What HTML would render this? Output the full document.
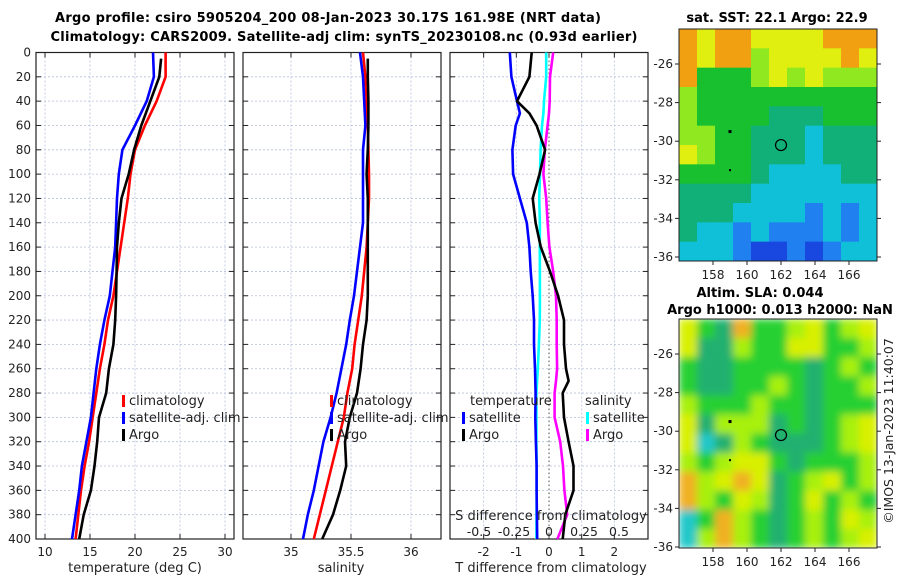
<!DOCTYPE html>
<html><head><meta charset="utf-8"><style>
html,body{margin:0;padding:0;background:#fff;}
svg{display:block;font-family:"DejaVu Sans","Liberation Sans",sans-serif;}
</style></head><body>
<svg id="fig" width="900" height="580" viewBox="0 0 900 580" xmlns="http://www.w3.org/2000/svg">
<defs><filter id="blur" x="0" y="0" width="1" height="1"><feGaussianBlur stdDeviation="4"/></filter>
<clipPath id="c2"><rect x="679" y="319" width="198" height="229"/></clipPath></defs>
<text x="328" y="22" text-anchor="middle" font-size="13" font-weight="bold" textLength="546">Argo profile: csiro 5905204_200 08-Jan-2023 30.17S 161.98E (NRT data)</text>
<text x="344" y="41" text-anchor="middle" font-size="13" font-weight="bold" textLength="587">Climatology: CARS2009. Satellite-adj clim: synTS_20230108.nc (0.93d earlier)</text>
<g id="plots"></g>
</svg>
<script>
const depths=[0,20,40,60,80,100,120,140,160,180,200,220,240,260,280,300,320,340,360,380,400];
const argoDepths=[5,20,40,60,80,100,120,140,160,180,200,220,240,260,280,300,320,340,360,380,400];
const tClim=[23.4,23.4,22.4,21.1,20.0,19.5,19.2,18.8,18.4,18.0,17.6,17.0,16.6,16.1,15.7,15.3,14.9,14.4,14.0,13.7,13.4];
const tSat=[22.0,22.1,21.3,20.0,18.6,18.2,18.0,17.9,17.8,17.5,17.2,16.6,16.1,15.7,15.4,15.1,14.6,14.1,13.8,13.4,13.0];
const tArgo=[22.9,22.7,21.7,20.7,19.9,19.3,18.5,18.2,18.0,17.96,17.9,17.8,17.6,17.1,16.8,16.0,15.8,15.5,15.1,14.3,13.8];
const sClim=[35.60,35.62,35.63,35.64,35.645,35.65,35.65,35.64,35.63,35.61,35.59,35.56,35.53,35.51,35.47,35.44,35.39,35.34,35.29,35.24,35.19];
const sSat=[35.575,35.60,35.61,35.62,35.60,35.60,35.60,35.60,35.575,35.55,35.525,35.49,35.46,35.42,35.38,35.33,35.27,35.23,35.19,35.14,35.10];
const sArgo=[35.64,35.64,35.645,35.645,35.64,35.63,35.64,35.64,35.64,35.64,35.64,35.63,35.60,35.58,35.55,35.49,35.45,35.46,35.41,35.35,35.26];
const dDepths=[0,20,40,50,60,80,100,120,140,160,180,200,220,240,260,270,280,300,320,340,360,380,400];
const dTSat=[-1.2,-1.15,-0.98,-0.89,-1.02,-1.12,-1.1,-0.89,-0.68,-0.6,-0.56,-0.5,-0.46,-0.46,-0.43,-0.42,-0.41,-0.42,-0.4,-0.38,-0.38,-0.37,-0.36];
const dTArgo=[-0.53,-0.6,-0.98,-0.6,-0.38,-0.12,-0.29,-0.5,-0.41,-0.25,0.03,0.28,0.46,0.46,0.52,0.6,0.42,0.46,0.6,0.75,0.75,0.5,0.42];
const dSSat=[-0.02,-0.02,-0.036,-0.04,-0.05,-0.06,-0.064,-0.07,-0.065,-0.066,-0.065,-0.065,-0.066,-0.072,-0.08,-0.085,-0.09,-0.09,-0.09,-0.088,-0.088,-0.089,-0.09];
const dSArgo=[0.03,0.007,0.005,0.0,-0.01,-0.03,-0.04,-0.02,-0.01,0.003,0.03,0.05,0.055,0.055,0.058,0.05,0.04,0.04,0.08,0.1,0.11,0.13,0.06];
const depthTicks=[0,20,40,60,80,100,120,140,160,180,200,220,240,260,280,300,320,340,360,380,400];
const tTicks=[10,15,20,25,30];
const sTicks=[35,35.5,36];
const dTTicks=[-2,-1,0,1,2];
const dSTicks=[-0.5,-0.25,0,0.25,0.5];
const latTicks=[-26,-28,-30,-32,-34,-36];
const lonTicks=[158,160,162,164,166];
const argoLon=162, argoLat=-30.2;
const sstGrid=["OYOOYYYYOOO","OYOOLYYYYOY","OGGGLYLYLLL","LGGGGGGGGGG","LGGGGTTTGGG","LLGGTTTCTTT","YLGGTTTCTTT","GGGGTCCCCTT","TTTTCCCCCCC","TTTCCCCBCBC","TCCBCBBBCBC","CCCBDDBDBCC"];
const slaGrid=["YGTOGGLYGLY","YTTLGGYYGGL","GTTGGGGTGLG","GTTGGLGTGGL","LGGGLGGTGGG","YTLLLTGTGLY","YCTLGTTTGLY","LGLYYGTGGGL","OLYOYTGLYGL","OLGYLTGYGLG","CGOLGTGLGYL","CLOLGTGLGLY"];

const NS="http://www.w3.org/2000/svg";
const root=document.getElementById('plots');
function el(t,a,p){const e=document.createElementNS(NS,t);for(const k in a)e.setAttribute(k,a[k]);(p||root).appendChild(e);return e;}
function txt(x,y,s,a,p){const e=el('text',Object.assign({x:x,y:y,'font-size':12,fill:'#222'},a||{}),p);e.textContent=s;return e;}
const top0=52.5,bot=539;
const yD=d=>top0+(d/400)*(bot-top0);

function panel(name,x0,x1,xmin,xmax,ticks,fmt,showY){
  const g=el('g',{});
  
  
  const xs=v=>x0+(v-xmin)/(xmax-xmin)*(x1-x0);
  ticks.forEach(v=>{const l=el('line',{x1:xs(v),x2:xs(v),y1:top0,y2:bot,stroke:'#b8c0dc','stroke-width':0.8,'stroke-dasharray':'2,2'},g);
    });
  depthTicks.forEach(d=>{const l=el('line',{x1:x0,x2:x1,y1:yD(d),y2:yD(d),stroke:'#b8c0dc','stroke-width':0.8,'stroke-dasharray':'2,2'},g);
    
    el('line',{x1:x0,x2:x0+5,y1:yD(d),y2:yD(d),stroke:'#222'},g);el('line',{x1:x1,x2:x1-5,y1:yD(d),y2:yD(d),stroke:'#222'},g);
    if(showY){const t=txt(x0-5,yD(d)+4,String(d),{'text-anchor':'end'},g);}});
  ticks.forEach(v=>{el('line',{x1:xs(v),x2:xs(v),y1:bot,y2:bot-5,stroke:'#222'},g);el('line',{x1:xs(v),x2:xs(v),y1:top0,y2:top0+5,stroke:'#222'},g);
    if(fmt){const t=txt(xs(v),556,fmt(v),{'text-anchor':'middle'},g);}});
  const r=el('rect',{x:x0,y:top0,width:x1-x0,height:bot-top0,fill:'none',stroke:'#222','stroke-width':1.2},g);
  
  return {g,xs};
}
function line(p,vals,ds,col,nm,xs){
  const pts=vals.map((v,i)=>xs(v).toFixed(1)+','+yD(ds[i]).toFixed(1)).join(' ');
  const e=el('polyline',{points:pts,fill:'none',stroke:col,'stroke-width':2.6,'stroke-linejoin':'round'},p);
  
}
function legItem(p,x,y,col,label,nm){
  const g=el('g',{},p);
  
  
  el('rect',{x:x,y:y-10,width:3,height:12,fill:col},g);txt(x+7,y,label,{'font-size':13},g);
}
// Panel 1
const P1=panel('temperature-panel',36,234,9,31,tTicks,v=>String(v),true);
line(P1.g,tClim,depths,'#f00','climatology-temp-line',P1.xs);
line(P1.g,tSat,depths,'#00f','satellite-temp-line',P1.xs);
line(P1.g,tArgo,argoDepths,'#000','argo-temp-line',P1.xs);
legItem(P1.g,122,405,'#f00','climatology','legend-climatology');
legItem(P1.g,122,422,'#00f','satellite-adj. clim','legend-satellite-adj');
legItem(P1.g,122,439,'#000','Argo','legend-argo');
txt(135,572,'temperature (deg C)',{'text-anchor':'middle','font-size':13});
// Panel 2
const P2=panel('salinity-panel',243,441,34.6,36.25,sTicks,v=>String(v),false);
line(P2.g,sClim,depths,'#f00','climatology-salinity-line',P2.xs);
line(P2.g,sSat,depths,'#00f','satellite-salinity-line',P2.xs);
line(P2.g,sArgo,argoDepths,'#000','argo-salinity-line',P2.xs);
legItem(P2.g,330,405,'#f00','climatology','legend-climatology-2');
legItem(P2.g,330,422,'#00f','satellite-adj. clim','legend-satellite-adj-2');
legItem(P2.g,330,439,'#000','Argo','legend-argo-2');
txt(341,572,'salinity',{'text-anchor':'middle','font-size':13});
// Panel 3
const P3=panel('difference-panel',450,648,-3.03,3.03,dTTicks,v=>String(v),false);
const xsS=v=>549+v*140;
el('line',{x1:549,x2:549,y1:top0,y2:bot,stroke:'#555','stroke-width':1,'stroke-dasharray':'1.5,2.5'},P3.g);
line(P3.g,dSSat,dDepths,'#0ff','satellite-salinity-diff-line',xsS);
line(P3.g,dSArgo,dDepths,'#f0f','argo-salinity-diff-line',xsS);
line(P3.g,dTSat,dDepths,'#00f','satellite-temp-diff-line',P3.xs);
line(P3.g,dTArgo,dDepths,'#000','argo-temp-diff-line',P3.xs);
txt(470,405,'temperature',{'font-size':13},P3.g);
legItem(P3.g,462,422,'#00f','satellite','legend-temp-satellite');
legItem(P3.g,462,439,'#000','Argo','legend-temp-argo');
txt(585,405,'salinity',{'font-size':13},P3.g);
legItem(P3.g,586,422,'#0ff','satellite','legend-sal-satellite');
legItem(P3.g,586,439,'#f0f','Argo','legend-sal-argo');
txt(551,520,'S difference from climatology',{'text-anchor':'middle','font-size':13},P3.g);
dSTicks.forEach(v=>{const t=txt(xsS(v),536,String(v),{'text-anchor':'middle','font-size':12.5},P3.g);});
txt(551,572,'T difference from climatology',{'text-anchor':'middle','font-size':13});

// Maps
const cols={O:'#f0a010',Y:'#e0ee10',L:'#90e820',G:'#18c030',T:'#10b078',C:'#10c0d8',B:'#2080f0',D:'#1848e0'};
const cols2={O:'#f0b020',Y:'#d8f000',L:'#a8f010',G:'#28d030',T:'#20b070',C:'#20c8c8'};
function map(name,y0,h,grid,pal,blur,latPx){
  const g=el('g',{});
  
  
  const x0=679,w=198;
  const xs=lon=>713+(lon-158)*17;
  const ys=lat=>latPx+(-26-lat)*19.3;
  const gg=el('g',blur?{filter:'url(#blur)'}:{},g);
  const rows=grid.length,cw=w/11,rh=h/rows;
  grid.forEach((row,r)=>{[...row].forEach((c,k)=>{el('rect',{x:x0+k*cw,y:y0+r*rh,width:cw+0.5,height:rh+0.5,fill:pal[c]},gg);});});
  if(blur){gg.setAttribute('clip-path','url(#c2)');}
  el('rect',{x:x0,y:y0,width:w,height:h,fill:'none',stroke:'#222','stroke-width':1},g);
  latTicks.forEach(v=>{el('line',{x1:x0,x2:x0-4,y1:ys(v),y2:ys(v),stroke:'#222'},g);el('line',{x1:x0+w,x2:x0+w+4,y1:ys(v),y2:ys(v),stroke:'#222'},g);
    const t=txt(673,ys(v)+4,String(v),{'text-anchor':'end'},g);});
  lonTicks.forEach(v=>{el('line',{x1:xs(v),x2:xs(v),y1:y0+h,y2:y0+h+4,stroke:'#222'},g);
    const t=txt(xs(v),y0+h+18,String(v),{'text-anchor':'middle'},g);});
  const m=el('circle',{cx:xs(argoLon),cy:ys(argoLat),r:5.5,fill:'none',stroke:'#000','stroke-width':1.2},g);
  
  el('rect',{x:xs(159)-1.5,y:ys(-29.5)-1.5,width:3,height:3,fill:'#000'},g);
  el('rect',{x:xs(159)-1,y:ys(-31.5)-1,width:2,height:2,fill:'#000'},g);
}
map('sst-map',29,232,sstGrid,cols,false,64);
map('sla-map',319,229,slaGrid,cols2,true,354);
txt(777,22,'sat. SST: 22.1 Argo: 22.9',{'text-anchor':'middle','font-size':13,'font-weight':'bold',fill:'#000'});
txt(760,297,'Altim. SLA: 0.044',{'text-anchor':'middle','font-size':13,'font-weight':'bold',fill:'#000'});
txt(780,314,'Argo h1000: 0.013 h2000: NaN',{'text-anchor':'middle','font-size':13,'font-weight':'bold',fill:'#000'});
const stamp=txt(0,0,'©IMOS 13-Jan-2023 11:40:07',{'text-anchor':'middle','font-size':12.5,transform:'translate(893,431) rotate(-90)'});


</script>
</body></html>
